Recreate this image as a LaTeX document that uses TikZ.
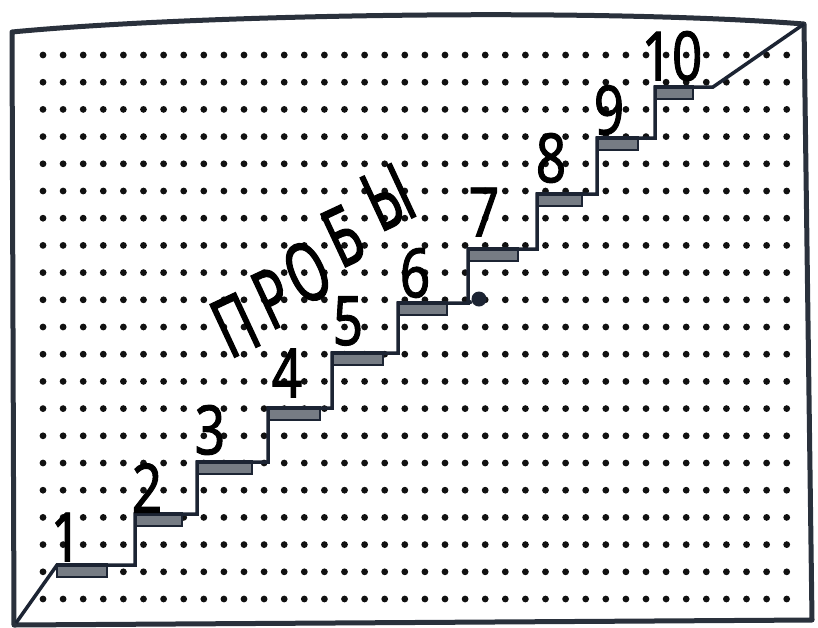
\documentclass[tikz,border=0pt]{standalone}
\usepackage{fontspec}
\setmainfont{Noto Sans}
\newfontfamily\digitfont[FakeStretch=0.78,FakeBold=1.4]{Noto Sans}
\newfontfamily\letterfont[FakeStretch=0.64,FakeBold=1.4]{Noto Sans}
\definecolor{ink}{HTML}{1C2433}
\definecolor{framec}{HTML}{2A313C}
\definecolor{barfill}{HTML}{767C84}
\definecolor{dotc}{HTML}{111111}
\tikzset{
  dig/.style={inner sep=0pt, text=black, font=\digitfont\fontsize{68}{68}\selectfont},
  let/.style={inner sep=0pt, text=black, rotate=25, font=\letterfont\fontsize{82}{82}\selectfont},
  stair/.style={draw=ink, line width=3.5pt, line join=miter},
  stepbar/.style={fill=barfill, draw=ink, line width=2.2pt},
  framel/.style={draw=framec, line width=5pt, line join=round},
}
\begin{document}
\begin{tikzpicture}[x=1pt,y=-1pt]
\useasboundingbox (0,0) rectangle (818,627);
% dotted grid
\foreach \k in {0,...,20}{
  \foreach \j in {0,...,37}{
    \fill[dotc] ({43+20.1*\j},{55+27.2*\k}) circle (3.4pt);
  }
}
% frame
\draw[framel] (12,32) .. controls (200,14) and (600,8) .. (804,24) -- (812,620) -- (14,625) -- cycle;
% step bars
\foreach \s/\e/\l in {57/107/565,135/182/514,197/252/462,268/320/408,332/383/353,398/447/303,468/518/249,537/582/194,597/638/138,655/693/87}{
  \draw[stepbar] (\s,\l-1) rectangle (\e,\l+12);
}
% staircase line
\draw[stair] (16,623) -- (57,565) -- (135,565) -- (135,514) -- (197,514) -- (197,462)
  -- (268,462) -- (268,408) -- (332,408) -- (332,353) -- (398,353) -- (398,303)
  -- (468,303) -- (468,249) -- (537,249) -- (537,194) -- (597,194) -- (597,138)
  -- (655,138) -- (655,87) -- (713,87) -- (804,24);
\node[circle, fill=ink, minimum size=15pt, inner sep=0pt] (junction) at (479,299) {};
\draw[stair] (468,303) -- (junction);
% step numbers
\node[dig] (n1) at (66,537) {1};
\node[dig] (n2) at (147,488) {2};
\node[dig] (n3) at (210,430) {3};
\node[dig] (n4) at (287,373) {4};
\node[dig] (n5) at (348,321) {5};
\node[dig] (n6) at (415,273) {6};
\node[dig] (n7) at (484,212) {7};
\node[dig] (n8) at (551,158) {8};
\node[dig] (n9) at (609,110) {9};
\node[dig] (n10) at (672,56) {10};
% word
\node[let] (w1) at (235,325) {П};
\node[let] (w2) at (273,298) {Р};
\node[let] (w3) at (307,272) {О};
\node[let] (w4) at (343,236) {Б};
\node[let] (w5) at (388,197) {Ы};
\end{tikzpicture}
\end{document}
